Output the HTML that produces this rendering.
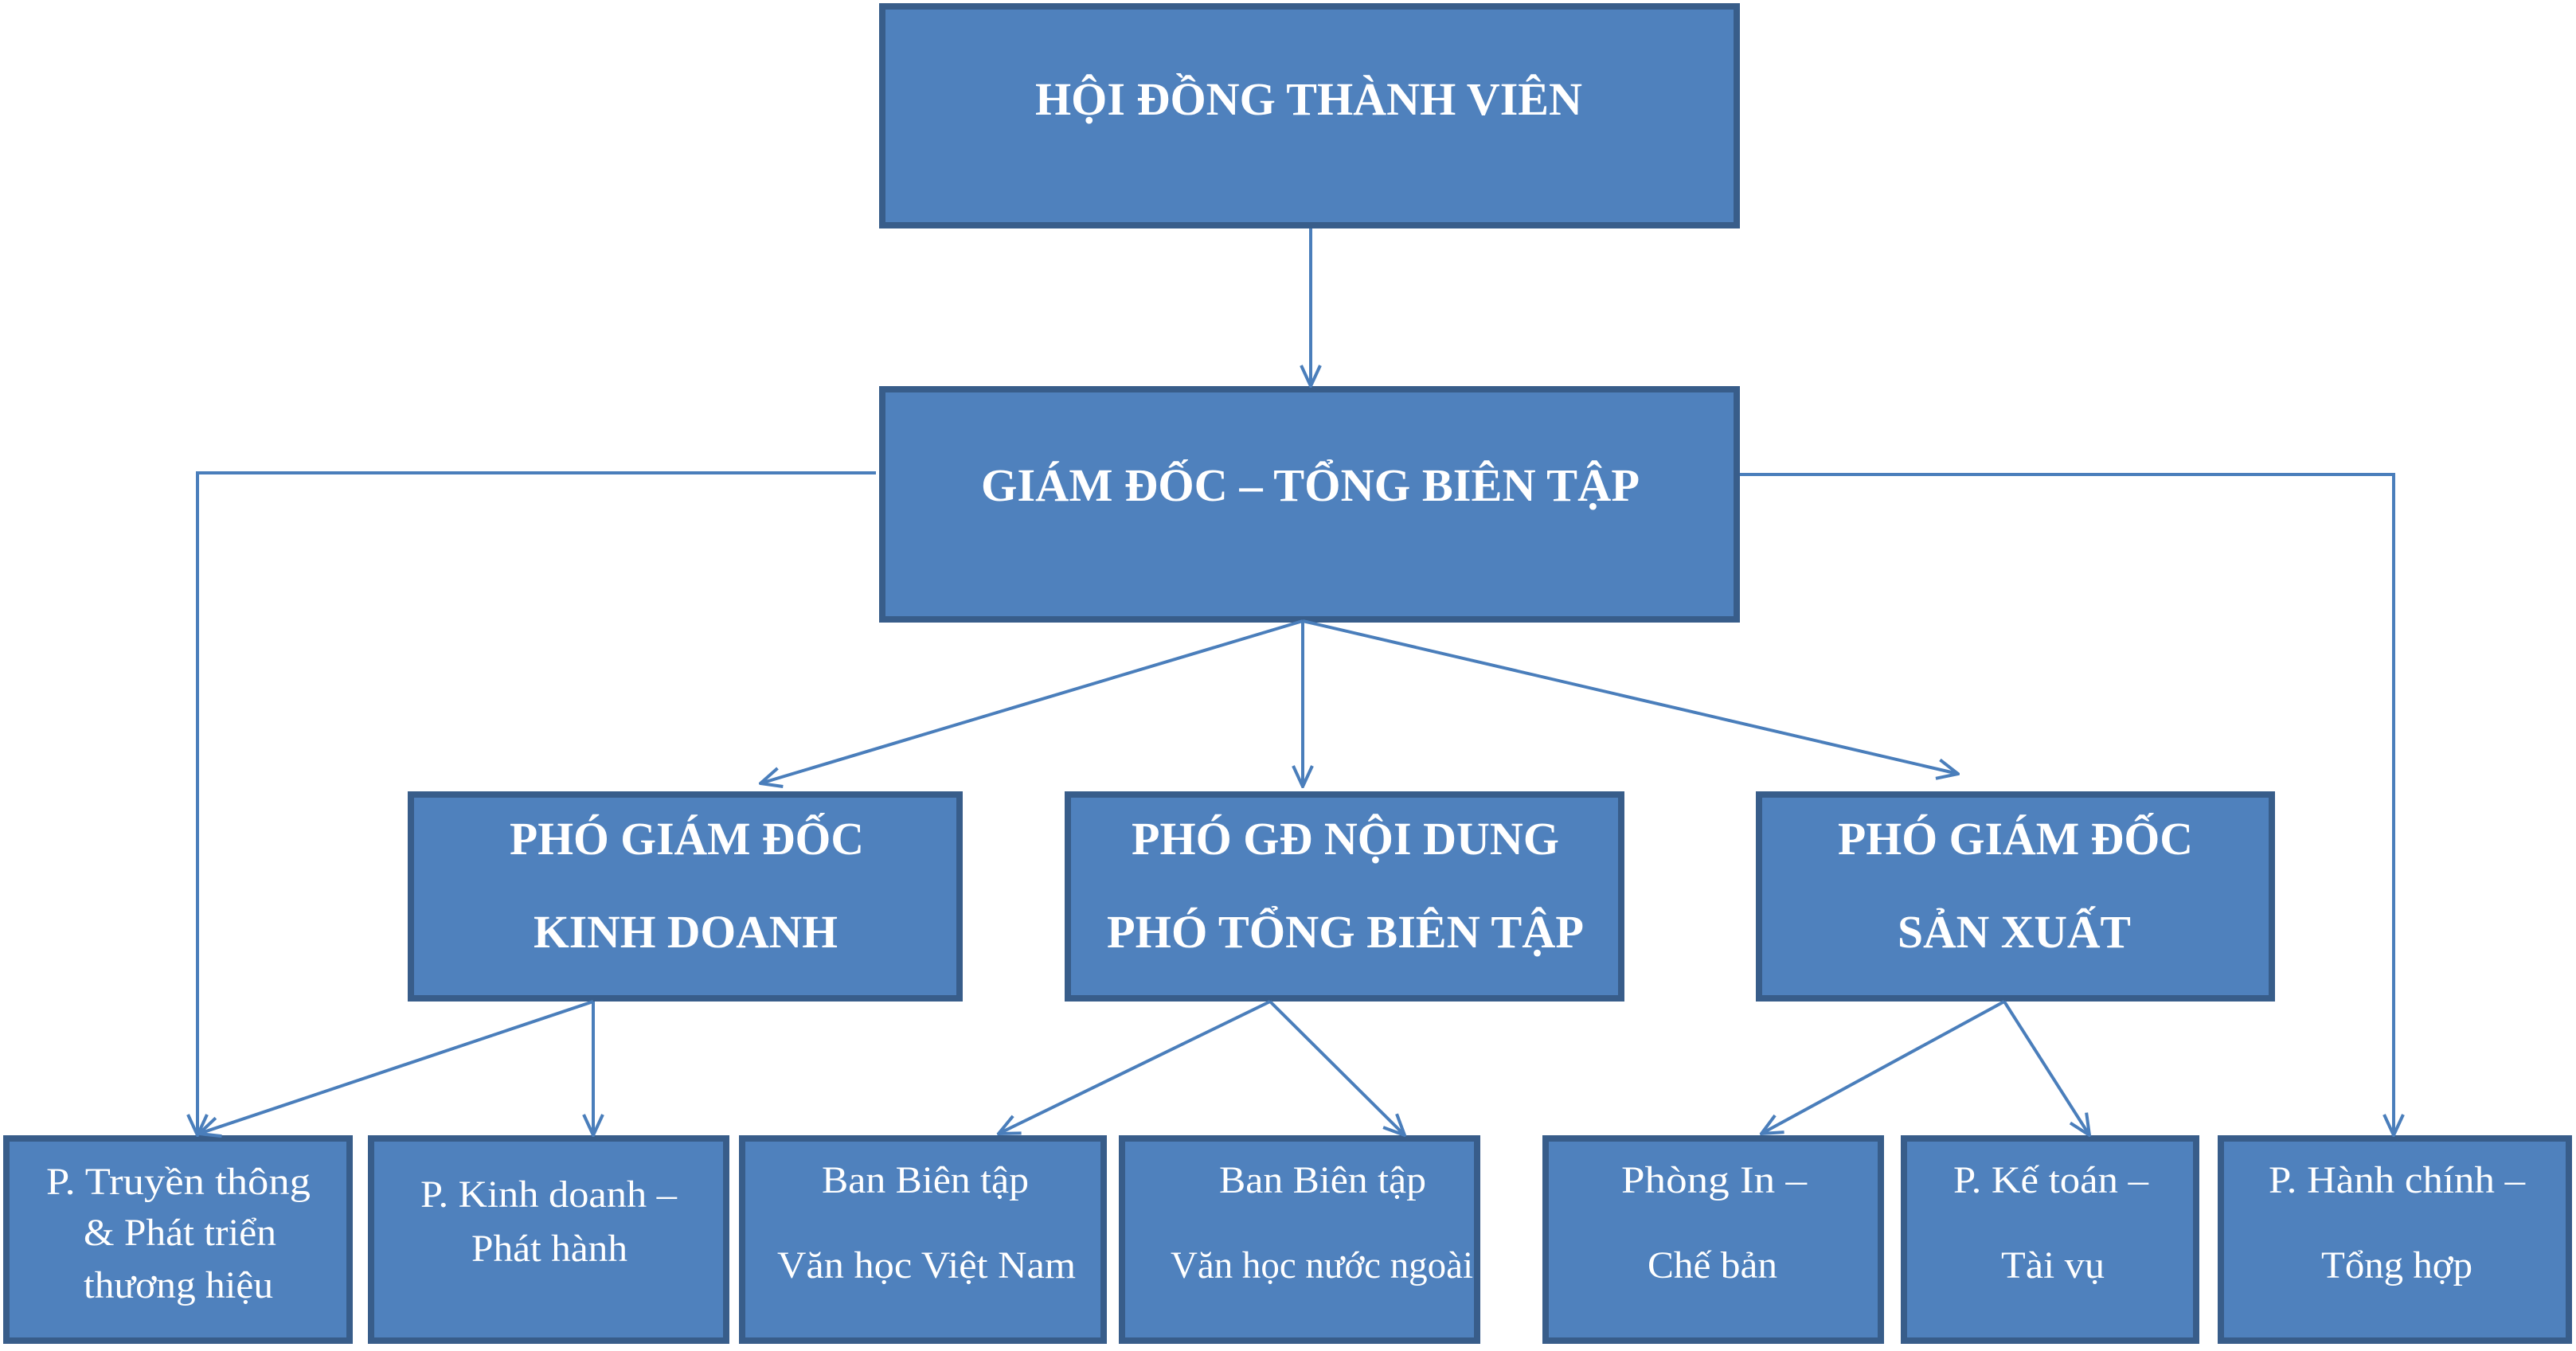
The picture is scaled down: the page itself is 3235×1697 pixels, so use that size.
<!DOCTYPE html>
<html><head><meta charset="utf-8"><style>html,body{margin:0;padding:0;background:#fff}</style></head>
<body>
<svg width="3235" height="1692" viewBox="0 0 3235 1692" xmlns="http://www.w3.org/2000/svg">
<defs>
<marker id="v" viewBox="0 0 30 30" refX="28" refY="15" markerWidth="30" markerHeight="30" orient="auto" markerUnits="userSpaceOnUse">
<path d="M2,3 L28,15 L2,27" fill="none" stroke="#4a7ebb" stroke-width="4"/>
</marker>
</defs>
<g fill="#4f81bd" stroke="#385d8a" stroke-width="8">
<rect x="1108" y="8" width="1073" height="275"/>
<rect x="1108" y="489" width="1073" height="289"/>
<rect x="516" y="998" width="689" height="256"/>
<rect x="1341" y="998" width="695" height="256"/>
<rect x="2209" y="998" width="644" height="256"/>
<rect x="8" y="1430" width="431" height="254"/>
<rect x="466" y="1430" width="446" height="254"/>
<rect x="932" y="1430" width="454" height="254"/>
<rect x="1409" y="1430" width="446" height="254"/>
<rect x="1941" y="1430" width="421" height="254"/>
<rect x="2391" y="1430" width="367" height="254"/>
<rect x="2789" y="1430" width="437" height="254"/>
</g>
<g stroke="#4a7ebb" stroke-width="4" fill="none">
<line x1="1646" y1="287" x2="1646" y2="485" marker-end="url(#v)"/>
<polyline points="1100,594 248,594 248,1426" marker-end="url(#v)"/>
<polyline points="2185,596 3006,596 3006,1426" marker-end="url(#v)"/>
<line x1="1636" y1="780" x2="955" y2="984" marker-end="url(#v)"/>
<line x1="1636" y1="780" x2="1636" y2="988" marker-end="url(#v)"/>
<line x1="1636" y1="780" x2="2459" y2="972" marker-end="url(#v)"/>
<line x1="745" y1="1258" x2="250" y2="1424" marker-end="url(#v)"/>
<line x1="745" y1="1258" x2="745" y2="1426" marker-end="url(#v)"/>
<line x1="1595" y1="1258" x2="1254" y2="1424" marker-end="url(#v)"/>
<line x1="1595" y1="1258" x2="1764" y2="1426" marker-end="url(#v)"/>
<line x1="2517" y1="1258" x2="2212" y2="1424" marker-end="url(#v)"/>
<line x1="2517" y1="1258" x2="2624" y2="1426" marker-end="url(#v)"/>
</g>
<g fill="#fff" font-family="Liberation Serif, serif" font-weight="bold" font-size="58">
<text x="1300" y="144" textLength="687" lengthAdjust="spacingAndGlyphs">HỘI ĐỒNG THÀNH VIÊN</text>
<text x="1232" y="629" textLength="827" lengthAdjust="spacingAndGlyphs">GIÁM ĐỐC – TỔNG BIÊN TẬP</text>
<text x="640" y="1073" textLength="445" lengthAdjust="spacingAndGlyphs">PHÓ GIÁM ĐỐC</text>
<text x="670" y="1190" textLength="382" lengthAdjust="spacingAndGlyphs">KINH DOANH</text>
<text x="1421" y="1073" textLength="537" lengthAdjust="spacingAndGlyphs">PHÓ GĐ NỘI DUNG</text>
<text x="1390" y="1190" textLength="599" lengthAdjust="spacingAndGlyphs">PHÓ TỔNG BIÊN TẬP</text>
<text x="2308" y="1073" textLength="446" lengthAdjust="spacingAndGlyphs">PHÓ GIÁM ĐỐC</text>
<text x="2383" y="1190" textLength="293" lengthAdjust="spacingAndGlyphs">SẢN XUẤT</text>
</g>
<g fill="#fff" font-family="Liberation Serif, serif" font-size="48">
<text x="58" y="1500" textLength="332" lengthAdjust="spacingAndGlyphs">P. Truyền  thông</text>
<text x="105" y="1564" textLength="242" lengthAdjust="spacingAndGlyphs">&amp; Phát triển</text>
<text x="105" y="1630" textLength="238" lengthAdjust="spacingAndGlyphs">thương hiệu</text>
<text x="528" y="1516" textLength="322" lengthAdjust="spacingAndGlyphs">P. Kinh doanh –</text>
<text x="592" y="1584" textLength="196" lengthAdjust="spacingAndGlyphs">Phát hành</text>
<text x="1032" y="1498" textLength="260" lengthAdjust="spacingAndGlyphs">Ban Biên tập</text>
<text x="976" y="1605" textLength="375" lengthAdjust="spacingAndGlyphs">Văn học Việt Nam</text>
<text x="1531" y="1498" textLength="260" lengthAdjust="spacingAndGlyphs">Ban Biên tập</text>
<text x="1470" y="1605" textLength="380" lengthAdjust="spacingAndGlyphs">Văn học nước ngoài</text>
<text x="2036" y="1498" textLength="233" lengthAdjust="spacingAndGlyphs">Phòng  In –</text>
<text x="2069" y="1605" textLength="163" lengthAdjust="spacingAndGlyphs">Chế bản</text>
<text x="2453" y="1498" textLength="245" lengthAdjust="spacingAndGlyphs">P. Kế toán –</text>
<text x="2513" y="1605" textLength="130" lengthAdjust="spacingAndGlyphs">Tài vụ</text>
<text x="2849" y="1498" textLength="322" lengthAdjust="spacingAndGlyphs">P. Hành chính –</text>
<text x="2915" y="1605" textLength="190" lengthAdjust="spacingAndGlyphs">Tổng hợp</text>
</g>
</svg>
</body></html>
